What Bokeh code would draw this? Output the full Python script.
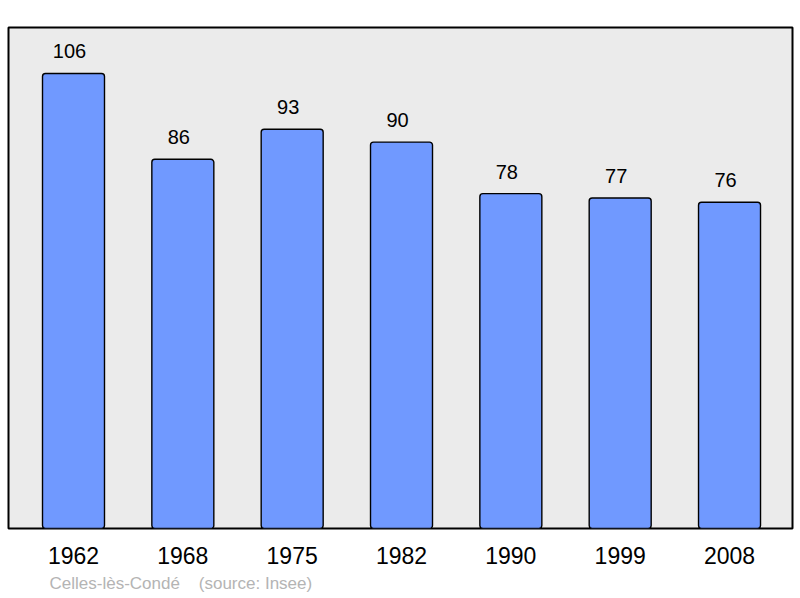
from bokeh.plotting import figure
from bokeh.models import Range1d, FixedTicker, Title, ColumnDataSource
from bokeh.embed import file_html
from bokeh.resources import INLINE
from bokeh.core.properties import value

years = ["1962", "1968", "1975", "1982", "1990", "1999", "2008"]
population = [106, 86, 93, 90, 78, 77, 76]
place = "Celles-lès-Condé"
source_note = "(source: Insee)"

xs = list(range(len(years)))
src = ColumnDataSource(dict(x=xs, top=population, lbl=[str(v) for v in population]))

p = figure(width=800, height=598, output_backend="svg", toolbar_location=None,
           x_range=Range1d(-0.5945, 6.576), y_range=Range1d(0, 116.7),
           min_border_left=8, min_border_right=8, min_border_top=27, min_border_bottom=70)
p.background_fill_color = "#ebebeb"
p.border_fill_color = "white"
p.outline_line_color = "black"
p.outline_line_width = 2
p.grid.visible = False
p.yaxis.visible = False

p.vbar(x="x", top="top", bottom=0, width=0.567, source=src,
       fill_color="#7099ff", line_color="black", line_width=1.4, border_radius=3)
p.text(x="x", y="top", text="lbl", source=src, x_offset=-4, y_offset=-22,
       text_align="center", text_baseline="middle", text_font=value("Liberation Sans"),
       text_font_size="20px", text_color="black")

ax = p.xaxis[0]
ax.ticker = FixedTicker(ticks=xs)
ax.major_label_overrides = {i: y for i, y in zip(xs, years)}
ax.axis_line_color = None
ax.major_tick_line_color = None
ax.minor_tick_line_color = None
ax.major_label_text_font = "Liberation Sans"
ax.major_label_text_font_size = "23px"
ax.major_label_text_color = "black"
ax.major_label_standoff = 12

nb = "\u00a0"
p.add_layout(Title(text=place + nb * 4 + source_note, align="left", offset=41,
                   text_font="Liberation Sans", text_font_size="17px",
                   text_font_style="normal", text_color="#b4b4b4", standoff=10), "below")

open("out.html", "w").write(file_html(p, INLINE))
